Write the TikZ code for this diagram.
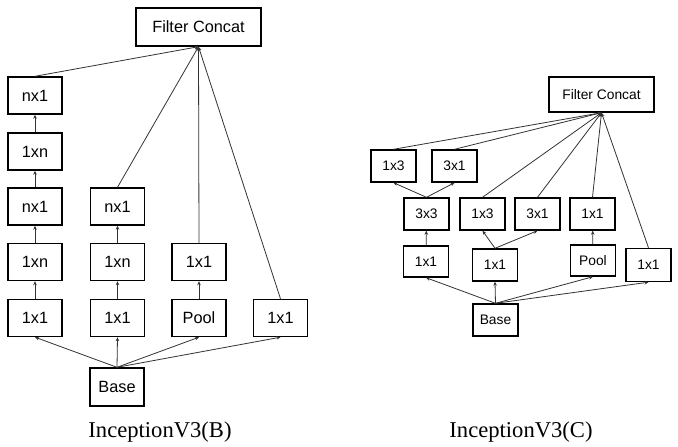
\documentclass[tikz,border=0pt]{standalone}
\usepackage{fontspec}
\setmainfont{Liberation Sans}
\newfontfamily\capfont{Liberation Serif}
\usetikzlibrary{arrows.meta}
\tikzset{
  bx/.style={draw=black, line width=1.4pt, inner sep=0pt, fill=white},
  boxL/.style={bx, minimum width=54pt, minimum height=37pt, font=\fontsize{16.3}{19}\selectfont},
  boxR/.style={bx, minimum width=45pt, minimum height=32pt, font=\fontsize{13.8}{16}\selectfont},
  conn/.style={draw=black!80, line width=0.8pt, -{Stealth[length=4pt,width=3.5pt]}},
  captxt/.style={font=\capfont\fontsize{22.6}{26}\selectfont, inner sep=0pt}
}
\begin{document}
\begin{tikzpicture}[x=1pt,y=-1pt]
\useasboundingbox (0,0) rectangle (678,447);
\fill[white] (0,0) rectangle (678,447);
% ---------- left: InceptionV3(B)
\node[boxL, minimum width=125pt, minimum height=38pt] (fcL) at (198.5,27) {Filter Concat};
\node[boxL] (a1) at (35,318) {1x1};
\node[boxL] (a2) at (35,262) {1xn};
\node[boxL] (a3) at (35,206.5) {nx1};
\node[boxL] (a4) at (35,151.5) {1xn};
\node[boxL] (a5) at (35,95.5) {nx1};
\node[boxL] (b1) at (117.5,318) {1x1};
\node[boxL] (b2) at (117.5,262) {1xn};
\node[boxL] (b3) at (117.5,206.5) {nx1};
\node[boxL] (c1) at (199,318) {Pool};
\node[boxL] (c2) at (199,262) {1x1};
\node[boxL] (d1) at (280.5,318) {1x1};
\node[boxL, minimum height=38pt] (baseL) at (117,387) {Base};
\draw[conn] (baseL.north) -- (a1.south);
\draw[conn] (baseL.north) -- (b1.south);
\draw[conn] (baseL.north) -- (c1.south);
\draw[conn] (baseL.north) -- (d1.south);
\draw[conn] (a1) -- (a2);
\draw[conn] (a2) -- (a3);
\draw[conn] (a3) -- (a4);
\draw[conn] (a4) -- (a5);
\draw[conn] (b1) -- (b2);
\draw[conn] (b2) -- (b3);
\draw[conn] (c1) -- (c2);
\draw[conn] (a5.north) -- (fcL.south);
\draw[conn] (b3.north) -- (fcL.south);
\draw[conn] (c2.north) -- (fcL.south);
\draw[conn] (d1.north) -- (fcL.south);
\node[captxt] (capB) at (160,432) {InceptionV3(B)};
% ---------- right: InceptionV3(C)
\node[boxR, minimum width=105pt, minimum height=35pt] (fcR) at (601.5,94.5) {Filter Concat};
\node[boxR] (p1) at (393.5,166) {1x3};
\node[boxR] (p2) at (454.5,166) {3x1};
\node[boxR] (q1) at (426.5,214) {3x3};
\node[boxR] (q2) at (482.5,214) {1x3};
\node[boxR] (q3) at (537.5,214) {3x1};
\node[boxR] (q4) at (592.5,214) {1x1};
\node[boxR, minimum height=31pt] (r1) at (426,261.5) {1x1};
\node[boxR] (r2) at (495,265) {1x1};
\node[boxR, minimum height=31pt] (r3) at (593,260.5) {Pool};
\node[boxR, minimum height=33pt] (r4) at (648.5,265) {1x1};
\node[boxR] (baseR) at (495.5,320) {Base};
\draw[conn] (baseR.north) -- (r1.south);
\draw[conn] (baseR.north) -- (r2.south);
\draw[conn] (baseR.north) -- (r3.south);
\draw[conn] (baseR.north) -- (r4.south);
\draw[conn] (r1) -- (q1);
\draw[conn] (q1.north) -- (p1.south);
\draw[conn] (q1.north) -- (p2.south);
\draw[conn] (r2.north) -- (q2.south);
\draw[conn] (r2.north) -- (q3.south);
\draw[conn] (r3) -- (q4);
\draw[conn] (p1.north) -- (fcR.south);
\draw[conn] (p2.north) -- (fcR.south);
\draw[conn] (q2.north) -- (fcR.south);
\draw[conn] (q3.north) -- (fcR.south);
\draw[conn] (q4.north) -- (fcR.south);
\draw[conn] (r4.north) -- (fcR.south);
\node[captxt] (capC) at (521,432) {InceptionV3(C)};
\end{tikzpicture}
\end{document}
